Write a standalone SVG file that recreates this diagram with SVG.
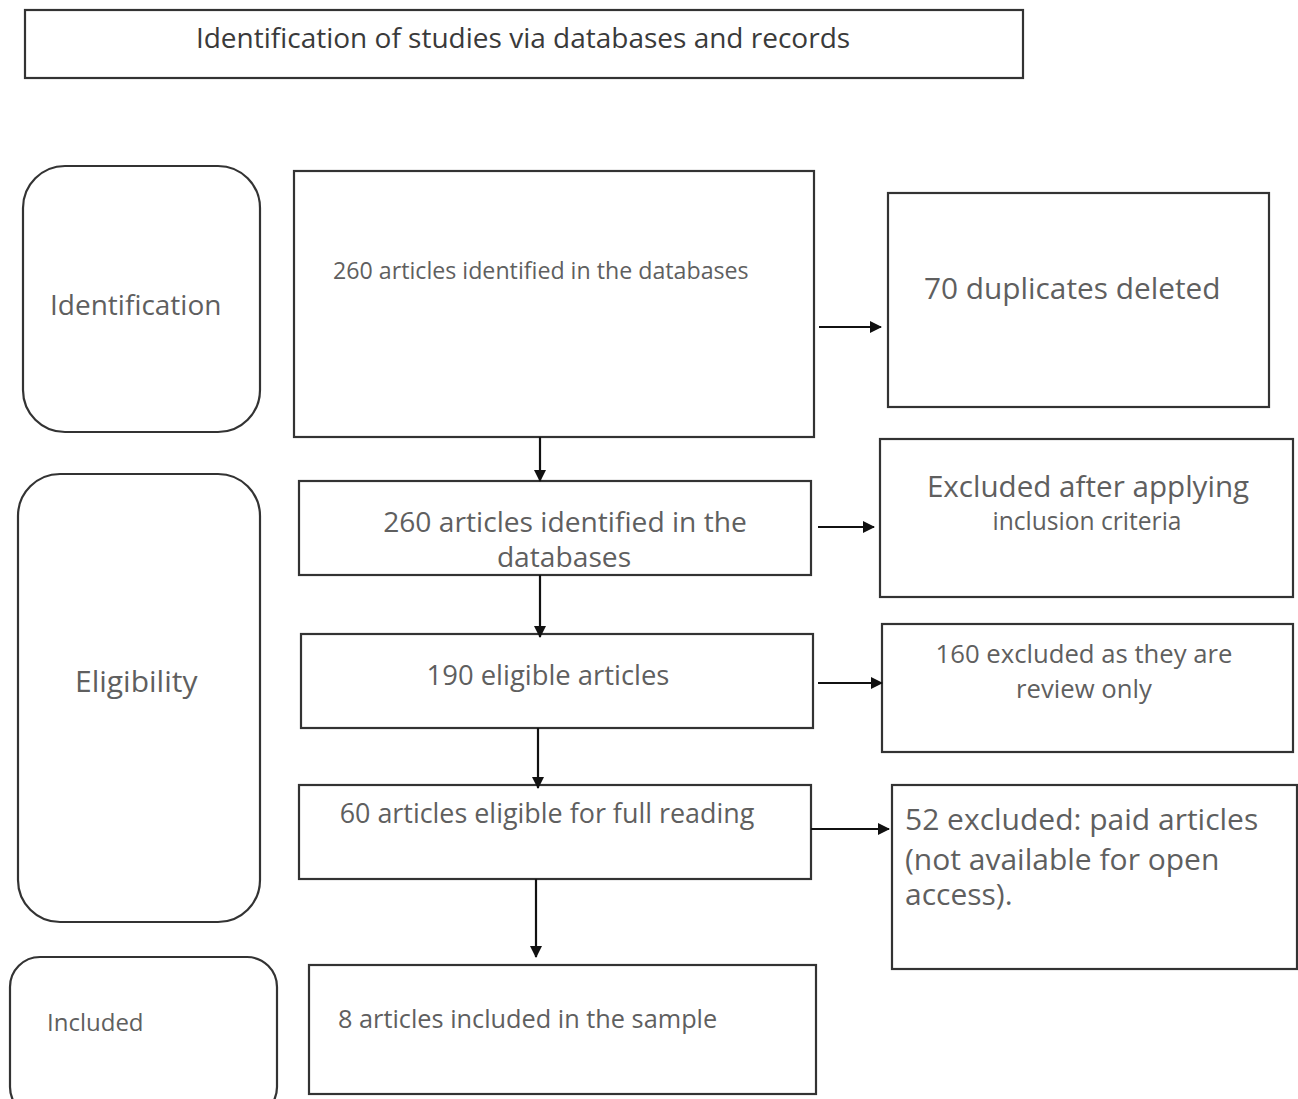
<svg xmlns="http://www.w3.org/2000/svg" width="1298" height="1099" viewBox="0 0 1298 1099">
<defs>
<marker id="ah" markerWidth="12" markerHeight="12" refX="11" refY="6" orient="auto" markerUnits="userSpaceOnUse">
<path d="M0,0 L12,6 L0,12 z" fill="#111"/>
</marker>
<style>
.box{fill:#fff;stroke:#333;stroke-width:2.2}
.t{font-family:"Open Sans","Noto Sans",sans-serif;fill:#5f5f5f}
.c{text-anchor:middle}
.ln{stroke:#111;stroke-width:2.2;fill:none;marker-end:url(#ah)}
</style>
</defs>
<rect width="1298" height="1099" fill="#fff"/>
<g id="title">
<rect class="box" x="25" y="10" width="998" height="68"/>
<text class="t c" x="523" y="48" font-size="28" style="fill:#3a3a3a">Identification of studies via databases and records</text>
</g>
<g id="phase-identification">
<rect class="box" x="23" y="166" width="237" height="266" rx="42"/>
<text class="t" x="50" y="315" font-size="28">Identification</text>
</g>
<g id="phase-eligibility">
<rect class="box" x="18" y="474" width="242" height="448" rx="42"/>
<text class="t" x="75" y="692" font-size="30">Eligibility</text>
</g>
<g id="phase-included">
<rect class="box" x="10" y="957" width="267" height="160" rx="30"/>
<text class="t" x="47" y="1031" font-size="24">Included</text>
</g>
<g id="n1">
<rect class="box" x="294" y="171" width="520" height="266"/>
<text class="t" x="333" y="279" font-size="23.2">260 articles identified in the databases</text>
</g>
<g id="n2">
<rect class="box" x="888" y="193" width="381" height="214"/>
<text class="t" x="924" y="299" font-size="29.8">70 duplicates deleted</text>
</g>
<g id="n3">
<rect class="box" x="299" y="481" width="512" height="94"/>
<text class="t c" x="565" y="532" font-size="28.2">260 articles identified in the</text>
<text class="t c" x="564" y="567" font-size="28.2">databases</text>
</g>
<g id="n4">
<rect class="box" x="880" y="439" width="413" height="158"/>
<text class="t c" x="1088" y="497" font-size="29.6">Excluded after applying</text>
<text class="t c" x="1087" y="530" font-size="24.6">inclusion criteria</text>
</g>
<g id="n5">
<rect class="box" x="301" y="634" width="512" height="94"/>
<text class="t c" x="548" y="685" font-size="27.4">190 eligible articles</text>
</g>
<g id="n6">
<rect class="box" x="882" y="624" width="411" height="128"/>
<text class="t c" x="1084" y="663" font-size="25.7">160 excluded as they are</text>
<text class="t c" x="1084" y="698" font-size="25.7">review only</text>
</g>
<g id="n7">
<rect class="box" x="299" y="785" width="512" height="94"/>
<text class="t c" x="547" y="823" font-size="26.9">60 articles eligible for full reading</text>
</g>
<g id="n8">
<rect class="box" x="892" y="785" width="405" height="184"/>
<text class="t" x="905" y="830" font-size="30">52 excluded: paid articles</text>
<text class="t" x="905" y="870" font-size="30">(not available for open</text>
<text class="t" x="905" y="905" font-size="30">access).</text>
</g>
<g id="n9">
<rect class="box" x="309" y="965" width="507" height="129"/>
<text class="t" x="338" y="1028" font-size="25.3">8 articles included in the sample</text>
</g>
<g id="connectors">
<line class="ln" x1="819" y1="327" x2="881" y2="327"/>
<line class="ln" x1="540" y1="437" x2="540" y2="481"/>
<line class="ln" x1="818" y1="527" x2="874" y2="527"/>
<line class="ln" x1="540" y1="575" x2="540" y2="637"/>
<line class="ln" x1="818" y1="683" x2="882" y2="683"/>
<line class="ln" x1="538" y1="728" x2="538" y2="788"/>
<line class="ln" x1="811" y1="829" x2="889" y2="829"/>
<line class="ln" x1="536" y1="879" x2="536" y2="957"/>
</g>
</svg>
